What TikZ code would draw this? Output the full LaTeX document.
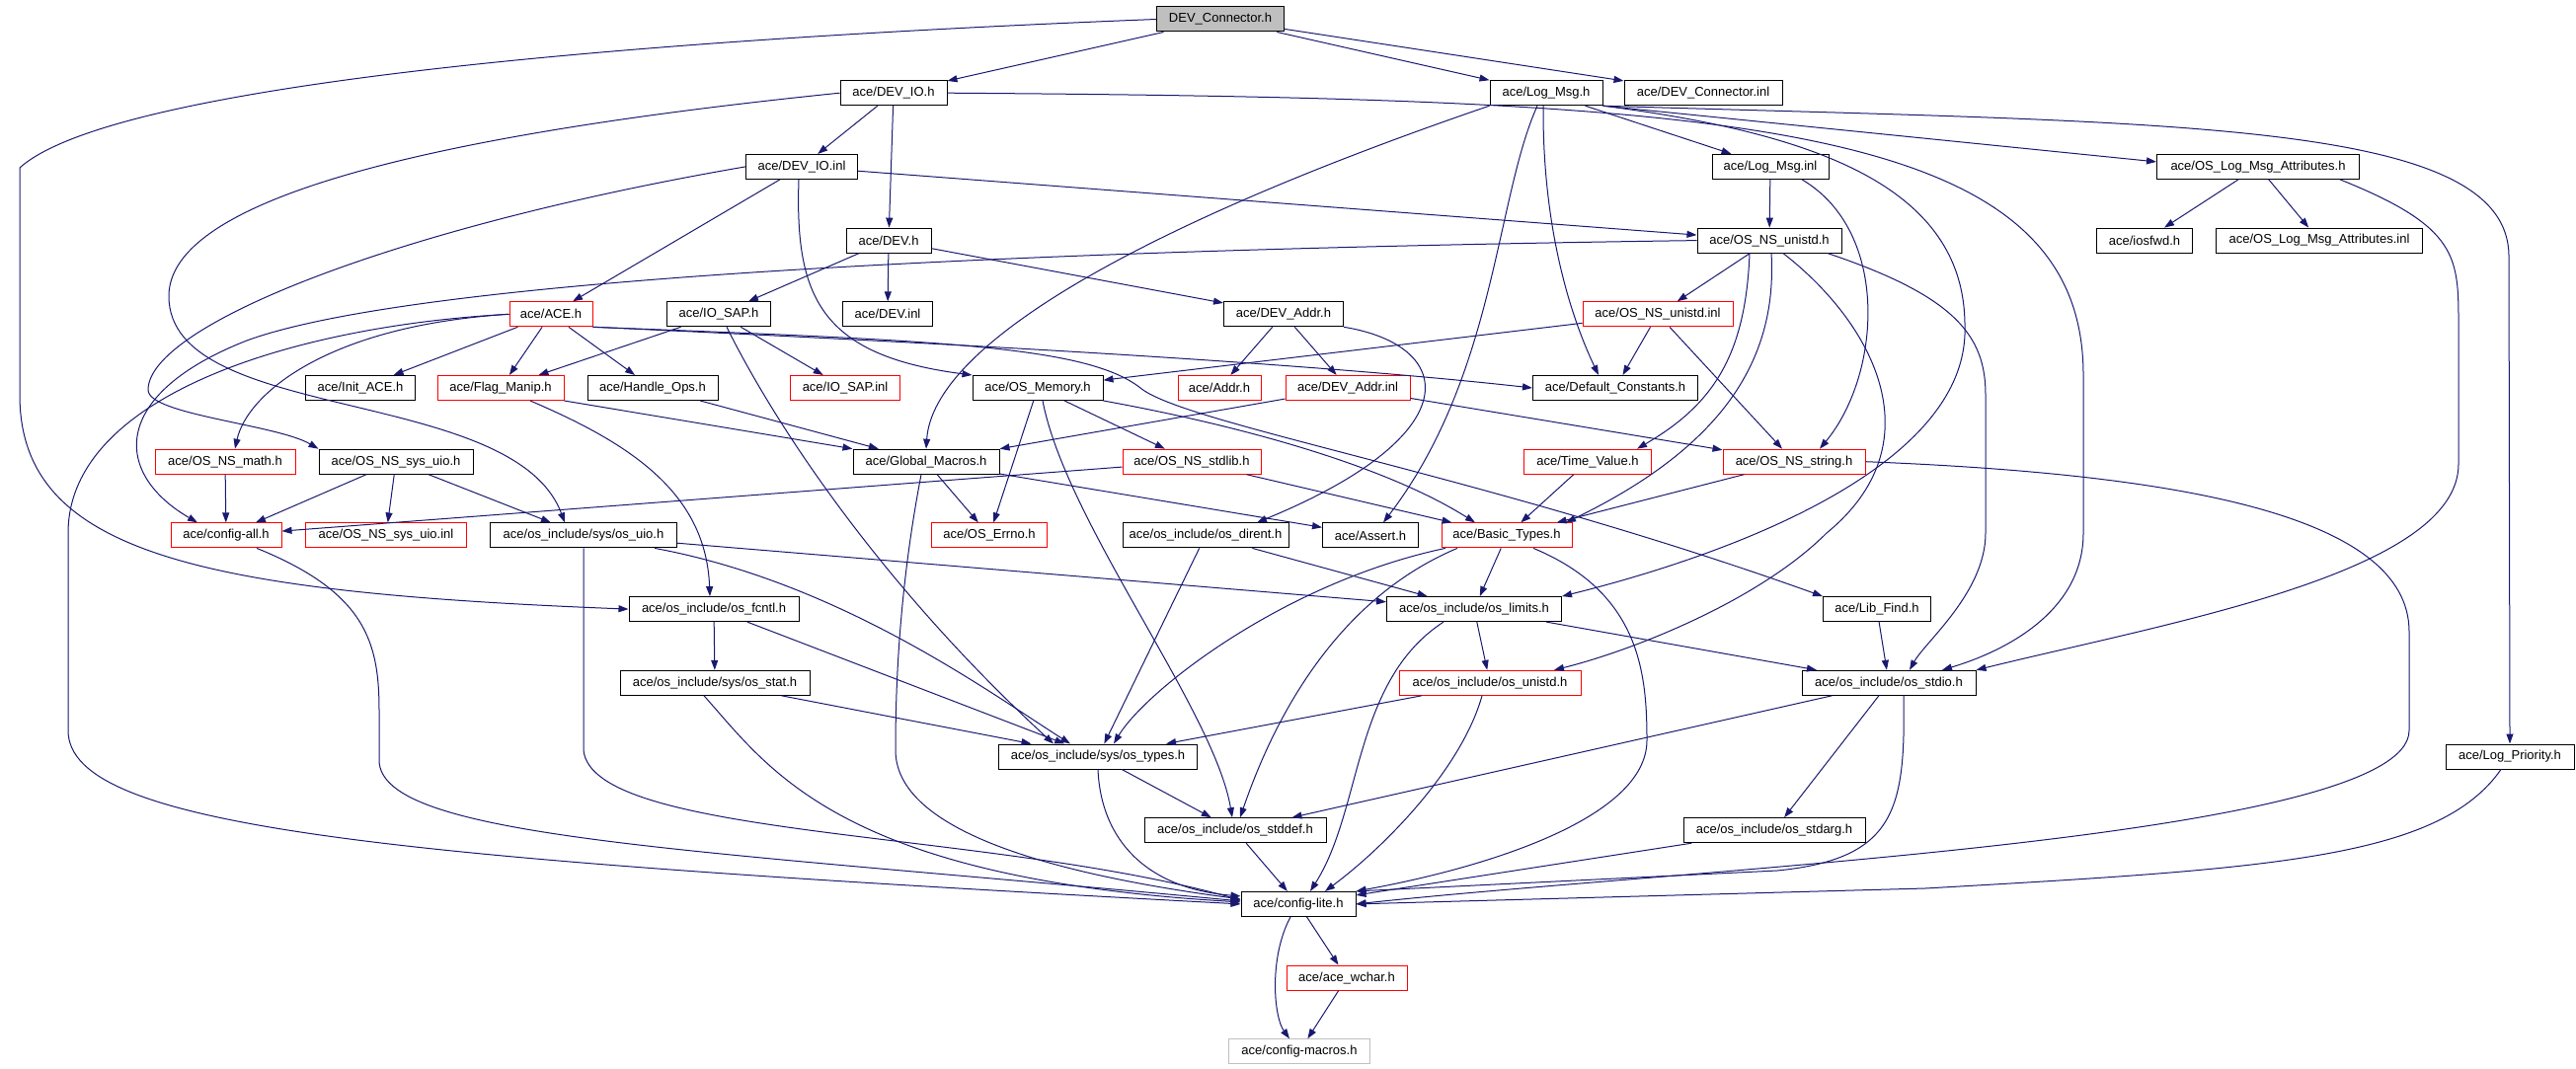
\documentclass[tikz,border=0pt]{standalone}
\usepackage{fontspec}
\setmainfont{Liberation Sans}
\usetikzlibrary{arrows.meta}
\definecolor{navy}{HTML}{191970}
\definecolor{rootgray}{HTML}{BFBFBF}
\tikzset{
	hdr/.style={draw,rectangle,fill=white,line width=1pt,minimum height=25pt,inner sep=0pt,font=\fontsize{13}{15}\selectfont},
	hdrcut/.style={hdr,draw=red},
	hdrroot/.style={hdr,fill=rootgray},
	hdrgrey/.style={hdr,draw=rootgray},
	inc/.style={draw=navy,line width=1pt,-{Triangle[length=10pt,width=7pt]}}
}
\begin{document}
\begin{tikzpicture}[x=1pt,y=-1pt]
	\useasboundingbox (0,0) rectangle (2609,1083);
	\node[hdrroot,minimum width=129] (conn) at (1236,19.5) {DEV\_Connector.h};
	\node[hdr,minimum width=108] (devio) at (905,94.2) {ace/DEV\_IO.h};
	\node[hdr,minimum width=114] (logmsg) at (1566,94.2) {ace/Log\_Msg.h};
	\node[hdr,minimum width=160] (conninl) at (1725,94.2) {ace/DEV\_Connector.inl};
	\node[hdr,minimum width=113] (devioinl) at (812,168.9) {ace/DEV\_IO.inl};
	\node[hdr,minimum width=118] (logmsginl) at (1793,168.9) {ace/Log\_Msg.inl};
	\node[hdr,minimum width=205] (oslma) at (2287,168.9) {ace/OS\_Log\_Msg\_Attributes.h};
	\node[hdr,minimum width=86] (dev) at (900,243.6) {ace/DEV.h};
	\node[hdr,minimum width=146] (unistd) at (1792,243.6) {ace/OS\_NS\_unistd.h};
	\node[hdr,minimum width=97] (iosfwd) at (2172,243.6) {ace/iosfwd.h};
	\node[hdr,minimum width=209] (oslmainl) at (2349,243.6) {ace/OS\_Log\_Msg\_Attributes.inl};
	\node[hdrcut,minimum width=84] (ace) at (558,318.3) {ace/ACE.h};
	\node[hdr,minimum width=105] (iosap) at (728,318.3) {ace/IO\_SAP.h};
	\node[hdr,minimum width=91] (devinl) at (899,318.3) {ace/DEV.inl};
	\node[hdr,minimum width=121] (devaddr) at (1300,318.3) {ace/DEV\_Addr.h};
	\node[hdrcut,minimum width=152] (unistdinl) at (1679,318.3) {ace/OS\_NS\_unistd.inl};
	\node[hdr,minimum width=111] (initace) at (365,393) {ace/Init\_ACE.h};
	\node[hdrcut,minimum width=128] (flag) at (507,393) {ace/Flag\_Manip.h};
	\node[hdr,minimum width=132] (handle) at (661,393) {ace/Handle\_Ops.h};
	\node[hdrcut,minimum width=111] (iosapinl) at (856,393) {ace/IO\_SAP.inl};
	\node[hdr,minimum width=132] (osmem) at (1051,393) {ace/OS\_Memory.h};
	\node[hdrcut,minimum width=84] (addr) at (1235,393) {ace/Addr.h};
	\node[hdrcut,minimum width=126] (devaddrinl) at (1365,393) {ace/DEV\_Addr.inl};
	\node[hdr,minimum width=167] (defconst) at (1636,393) {ace/Default\_Constants.h};
	\node[hdrcut,minimum width=142] (math) at (228,467.7) {ace/OS\_NS\_math.h};
	\node[hdr,minimum width=156] (sysuio) at (401,467.7) {ace/OS\_NS\_sys\_uio.h};
	\node[hdr,minimum width=148] (gmacros) at (938,467.7) {ace/Global\_Macros.h};
	\node[hdrcut,minimum width=140] (stdlib) at (1207,467.7) {ace/OS\_NS\_stdlib.h};
	\node[hdrcut,minimum width=129] (timeval) at (1608,467.7) {ace/Time\_Value.h};
	\node[hdrcut,minimum width=144] (string) at (1817,467.7) {ace/OS\_NS\_string.h};
	\node[hdrcut,minimum width=112] (cfgall) at (229,542.4) {ace/config-all.h};
	\node[hdrcut,minimum width=163] (sysuioinl) at (391,542.4) {ace/OS\_NS\_sys\_uio.inl};
	\node[hdr,minimum width=189] (osuio) at (591,542.4) {ace/os\_include/sys/os\_uio.h};
	\node[hdrcut,minimum width=117] (errno) at (1002,542.4) {ace/OS\_Errno.h};
	\node[hdr,minimum width=168] (dirent) at (1221,542.4) {ace/os\_include/os\_dirent.h};
	\node[hdr,minimum width=97] (assert) at (1388,542.4) {ace/Assert.h};
	\node[hdrcut,minimum width=132] (basic) at (1526,542.4) {ace/Basic\_Types.h};
	\node[hdr,minimum width=172] (fcntl) at (723,617.1) {ace/os\_include/os\_fcntl.h};
	\node[hdr,minimum width=177] (limits) at (1493,617.1) {ace/os\_include/os\_limits.h};
	\node[hdr,minimum width=109] (libfind) at (1901,617.1) {ace/Lib\_Find.h};
	\node[hdr,minimum width=192] (stat) at (724,691.8) {ace/os\_include/sys/os\_stat.h};
	\node[hdrcut,minimum width=184] (osunistd) at (1509,691.8) {ace/os\_include/os\_unistd.h};
	\node[hdr,minimum width=176] (stdio) at (1913,691.8) {ace/os\_include/os\_stdio.h};
	\node[hdr,minimum width=201] (types) at (1112,766.5) {ace/os\_include/sys/os\_types.h};
	\node[hdr,minimum width=130] (logprio) at (2542,766.5) {ace/Log\_Priority.h};
	\node[hdr,minimum width=184] (stddef) at (1251,841.2) {ace/os\_include/os\_stddef.h};
	\node[hdr,minimum width=184] (stdarg) at (1797,841.2) {ace/os\_include/os\_stdarg.h};
	\node[hdr,minimum width=116] (lite) at (1315,915.9) {ace/config-lite.h};
	\node[hdrcut,minimum width=122] (wchar) at (1364,990.6) {ace/ace\_wchar.h};
	\node[hdrgrey,minimum width=143] (macros) at (1316,1065.3) {ace/config-macros.h};

	\draw[inc] (conn) -- (devio);
	\draw[inc] (conn) -- (logmsg);
	\draw[inc] (conn) -- (conninl);
	\draw[inc] (conn.west) .. controls (700,38) and (120,80) .. (20,170) -- (20,400) .. controls (20,560) and (200,600) .. (fcntl.west);

	\draw[inc] (devio) -- (devioinl);
	\draw[inc] (devio) -- (dev);
	\draw[inc] (devio.west) .. controls (500,130) and (171,190) .. (171,300) .. controls (171,430) and (520,390) .. ([xshift=-19]osuio.north);
	\draw[inc] (devio.east) .. controls (1750,100) and (2110,120) .. (2110,380) -- (2110,540) .. controls (2110,620) and (2030,660) .. ([xshift=54]stdio.north);

	\draw[inc] (logmsg) -- (logmsginl);
	\draw[inc] (logmsg.south east) -- ([yshift=5]oslma.west);
	\draw[inc] (logmsg.south east) .. controls (2200,125) and (2541,120) .. (2541,260) -- (logprio.north);
	\draw[inc] (logmsg.south east) .. controls (1840,135) and (1990,190) .. (1990,330) .. controls (1995,470) and (1760,560) .. (limits.north east);
	\draw[inc] (logmsg.south west) .. controls (1150,230) and (945,350) .. (gmacros.north);
	\draw[inc] ([xshift=-9]logmsg.south) .. controls (1515,200) and (1515,380) .. ([xshift=13]assert.north);
	\draw[inc] ([xshift=-3]logmsg.south) .. controls (1562,250) and (1600,340) .. ([xshift=-17]defconst.north);

	\draw[inc] (logmsginl) -- (unistd);
	\draw[inc] ([xshift=32]logmsginl.south) .. controls (1915,235) and (1905,380) .. ([xshift=26]string.north);

	\draw[inc] (oslma) -- (iosfwd);
	\draw[inc] (oslma) -- (oslmainl);
	\draw[inc] ([xshift=83]oslma.south) .. controls (2490,230) and (2490,260) .. (2490,330) -- (2490,470) .. controls (2490,580) and (2200,630) .. (stdio.north east);

	\draw[inc] (devioinl) -- (ace);
	\draw[inc] (devioinl.west) .. controls (400,230) and (150,330) .. (150,395) .. controls (150,420) and (280,430) .. (sysuio.north west);
	\draw[inc] (devioinl) -- (unistd);
	\draw[inc] ([xshift=-3]devioinl.south) .. controls (805,300) and (830,360) .. (osmem.north west);

	\draw[inc] (dev) -- (iosap);
	\draw[inc] (dev) -- (devinl);
	\draw[inc] (dev) -- (devaddr);

	\draw[inc] (iosap) -- (flag);
	\draw[inc] (iosap) -- (iosapinl);
	\draw[inc] ([xshift=8]iosap.south) .. controls (790,440) and (900,600) .. ([xshift=-45]types.north);

	\draw[inc] (ace) -- (initace);
	\draw[inc] (ace) -- (flag);
	\draw[inc] (ace) -- (handle);
	\draw[inc] (ace.west) .. controls (330,330) and (250,400) .. ([xshift=10]math.north);
	\draw[inc] (ace.west) .. controls (300,330) and (69,400) .. (69,540) -- (69,740) .. controls (69,840) and (400,870) .. (lite.west);
	\draw[inc] (ace.south east) .. controls (900,345) and (1300,365) .. (defconst.west);
	\draw[inc] (ace.south east) .. controls (950,345) and (1100,350) .. (1155,393) .. controls (1200,430) and (1500,480) .. (libfind.north west);

	\draw[inc] (devaddr) -- (addr);
	\draw[inc] (devaddr) -- (devaddrinl);
	\draw[inc] (devaddr.south east) .. controls (1475,350) and (1490,440) .. ([xshift=52]dirent.north);

	\draw[inc] (unistdinl) -- (osmem);
	\draw[inc] (unistdinl) -- (defconst);
	\draw[inc] (unistdinl) -- (string);

	\draw[inc] (unistd) -- (unistdinl);
	\draw[inc] (unistd.west) .. controls (900,255) and (400,290) .. (250,345) .. controls (110,400) and (115,480) .. ([xshift=-29]cfgall.north);
	\draw[inc] ([xshift=59]unistd.south) .. controls (1980,300) and (2011,340) .. (2011,400) -- (2011,540) .. controls (2011,600) and (1950,650) .. ([xshift=21]stdio.north);
	\draw[inc] ([xshift=-20]unistd.south) .. controls (1768,360) and (1735,410) .. ([xshift=50]timeval.north);
	\draw[inc] ([xshift=2]unistd.south) .. controls (1800,360) and (1750,450) .. ([xshift=60]basic.north);
	\draw[inc] ([xshift=14]unistd.south) .. controls (1900,330) and (1960,450) .. (1850,540) .. controls (1780,610) and (1650,660) .. ([xshift=65]osunistd.north);

	\draw[inc] (flag.south east) -- (gmacros.north west);
	\draw[inc] ([xshift=30]flag.south) .. controls (640,450) and (715,500) .. ([xshift=-4]fcntl.north);
	\draw[inc] (handle) -- (gmacros);

	\draw[inc] (osmem) -- (errno);
	\draw[inc] (osmem) -- (stdlib);
	\draw[inc] (osmem.south east) .. controls (1250,430) and (1400,470) .. ([xshift=-32]basic.north);
	\draw[inc] ([xshift=5]osmem.south) .. controls (1080,530) and (1230,720) .. ([xshift=-3]stddef.north);

	\draw[inc] (devaddrinl) -- (gmacros);
	\draw[inc] (devaddrinl) -- (string);

	\draw[inc] (math) -- (cfgall);
	\draw[inc] (sysuio) -- (cfgall);
	\draw[inc] (sysuio) -- (sysuioinl);
	\draw[inc] (sysuio) -- (osuio);

	\draw[inc] (gmacros) -- (errno);
	\draw[inc] (gmacros) -- (assert);
	\draw[inc] ([xshift=-5]gmacros.south) .. controls (910,600) and (907,700) .. (907,760) .. controls (907,850) and (1100,890) .. ([yshift=5]lite.west);

	\draw[inc] (stdlib) -- (basic);
	\draw[inc] (stdlib) -- (cfgall);
	\draw[inc] (timeval) -- (basic);
	\draw[inc] (string) -- (basic);
	\draw[inc] (string.east) .. controls (2200,480) and (2440,520) .. (2440,640) -- (2440,740) .. controls (2440,850) and (1700,880) .. (lite.east);

	\draw[inc] ([xshift=31]cfgall.south) .. controls (370,600) and (384,650) .. (384,720) -- (384,770) .. controls (384,850) and (700,860) .. ([yshift=3]lite.west);

	\draw[inc] ([xshift=72]osuio.south) .. controls (850,590) and (1000,700) .. ([xshift=-28]types.north);
	\draw[inc] (osuio) -- (limits);
	\draw[inc] (osuio.south) -- (591,760) .. controls (600,850) and (1000,840) .. ([yshift=4]lite.west);

	\draw[inc] (dirent) -- (limits);
	\draw[inc] (dirent) -- (types);

	\draw[inc] (basic) -- (limits);
	\draw[inc] ([xshift=-62]basic.south) .. controls (1300,590) and (1160,700) .. ([xshift=16]types.north);
	\draw[inc] ([xshift=-50]basic.south) .. controls (1370,600) and (1300,700) .. ([xshift=5]stddef.north);
	\draw[inc] ([xshift=27]basic.south) .. controls (1660,600) and (1668,680) .. (1668,750) .. controls (1668,830) and (1500,880) .. (lite.north east);

	\draw[inc] (fcntl) -- (stat);
	\draw[inc] (fcntl) -- (types);

	\draw[inc] (limits) -- (osunistd);
	\draw[inc] (limits) -- (stdio);
	\draw[inc] ([xshift=-31]limits.south) .. controls (1370,690) and (1380,820) .. ([xshift=12]lite.north);

	\draw[inc] (libfind) -- (stdio);

	\draw[inc] (stat) -- (types);
	\draw[inc] ([xshift=-11]stat.south) .. controls (780,780) and (850,890) .. ([yshift=2]lite.west);

	\draw[inc] (osunistd) -- (types);
	\draw[inc] ([xshift=-8]osunistd.south) .. controls (1480,780) and (1400,860) .. ([xshift=27]lite.north);

	\draw[inc] (stdio) -- (stddef);
	\draw[inc] (stdio) -- (stdarg);
	\draw[inc] ([xshift=15]stdio.south) .. controls (1930,820) and (1920,870) .. (1800,882) -- (lite.north east);

	\draw[inc] (stdarg) -- (lite);
	\draw[inc] (types) -- (stddef);
	\draw[inc] (types.south) .. controls (1115,850) and (1160,900) .. ([yshift=8]lite.west);
	\draw[inc] (stddef) -- (lite);
	\draw[inc] ([xshift=-9]logprio.south) .. controls (2470,870) and (2300,880) .. (1950,900) -- (lite.east);

	\draw[inc] (lite) -- (wchar);
	\draw[inc] ([xshift=-8]lite.south) .. controls (1285,970) and (1290,1030) .. ([xshift=-10]macros.north);
	\draw[inc] (wchar) -- (macros);
\end{tikzpicture}
\end{document}
